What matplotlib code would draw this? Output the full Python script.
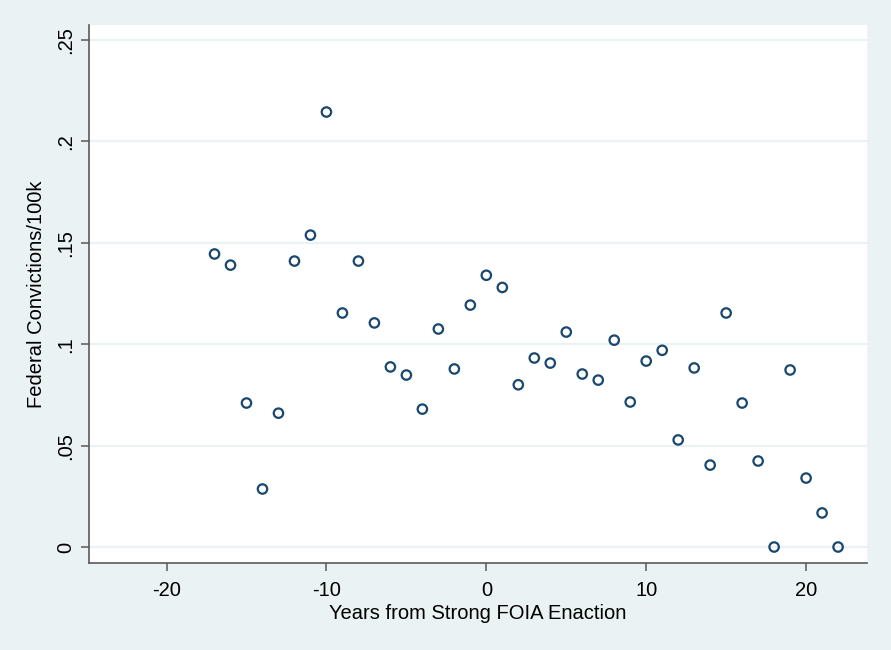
import matplotlib.pyplot as plt
from matplotlib.ticker import FuncFormatter

plt.rcParams['font.family'] = ['Liberation Sans', 'DejaVu Sans']
plt.rcParams['axes.unicode_minus'] = False

# Years relative to strong FOIA enactment and federal convictions per 100k
years = list(range(-17, 23))
convictions = [0.1445, 0.139, 0.071, 0.0286, 0.066, 0.141, 0.1538, 0.2145,
               0.1154, 0.141, 0.1105, 0.0888, 0.0848, 0.068, 0.1075, 0.0878,
               0.1193, 0.134, 0.128, 0.080, 0.0932, 0.0907, 0.106, 0.0853,
               0.0823, 0.102, 0.0715, 0.0917, 0.097, 0.0528, 0.0883, 0.0404,
               0.1154, 0.071, 0.0424, 0.0, 0.0873, 0.034, 0.0168, 0.0]

bg = '#EAF2F3'
navy = '#1A476F'

fig = plt.figure(figsize=(8.91, 6.5), dpi=100, facecolor=bg)
ax = fig.add_axes([0.0999, 0.1338, 0.873, 0.8277])
ax.set_facecolor('white')

ax.scatter(years, convictions, s=46, facecolors='none', edgecolors=navy,
           linewidths=1.6, zorder=3)

ax.set_xlim(-24.85, 23.8)
ax.set_ylim(-0.0079, 0.2574)
ax.set_xticks([-20, -10, 0, 10, 20])
ax.set_yticks([0, 0.05, 0.1, 0.15, 0.2, 0.25])

def stata_fmt(v, pos):
    if abs(v) < 1e-9:
        return '0'
    return ('%g' % v).replace('0.', '.')

ax.yaxis.set_major_formatter(FuncFormatter(stata_fmt))
ax.grid(axis='y', color=bg, linewidth=1.6, zorder=0)
ax.set_axisbelow(True)

for side in ['top', 'right']:
    ax.spines[side].set_visible(False)
for side in ['left', 'bottom']:
    ax.spines[side].set_color('#5a5a5a')
    ax.spines[side].set_linewidth(1.2)

ax.tick_params(axis='both', colors='#5a5a5a', length=6, width=1.1,
               labelsize=14.5, labelcolor='black')
ax.tick_params(axis='x', pad=7)
ax.tick_params(axis='y', pad=4)
for lab in ax.get_yticklabels():
    lab.set_rotation(90)
    lab.set_va('center')

ax.set_xlabel('Years from Strong FOIA Enaction', fontsize=14.5, labelpad=3)
ax.set_ylabel('Federal Convictions/100k', fontsize=14.5, labelpad=7)

fig.savefig('out.png', dpi=100, facecolor=bg)
